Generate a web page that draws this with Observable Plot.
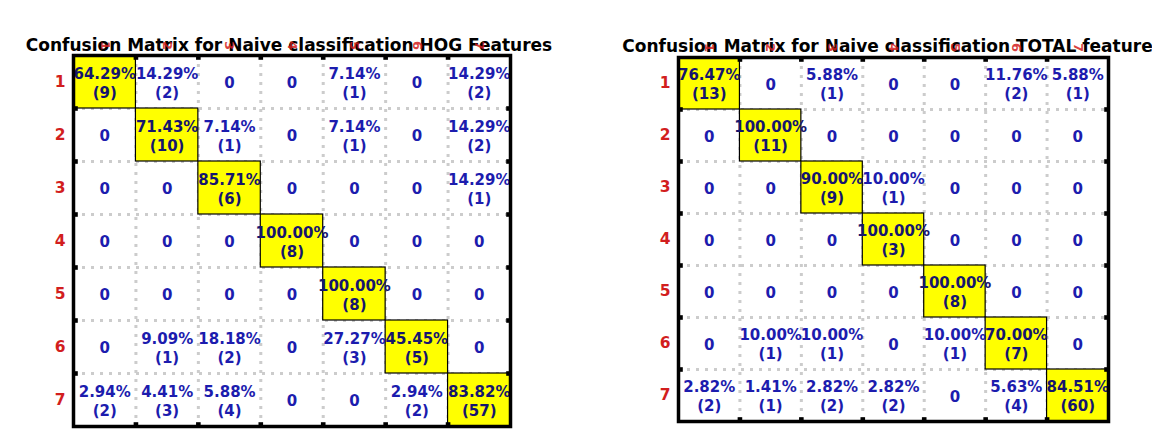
<!DOCTYPE html>
<html>
<head>
<meta charset="utf-8">
<script src="https://cdn.jsdelivr.net/npm/d3@7"></script>
<script src="https://cdn.jsdelivr.net/npm/@observablehq/plot@0.6"></script>
<style>
  html, body { margin: 0; padding: 0; background: #fff; }
  #wrap { position: relative; width: 1152px; height: 437px; overflow: hidden; background: #fff; }
  #wrap > div { position: absolute; top: 0; }
</style>
</head>
<body>
<div id="wrap"><div id="left"></div><div id="right"></div></div>
<script>
const classes = [1, 2, 3, 4, 5, 6, 7];
const boundaries = [1.5, 2.5, 3.5, 4.5, 5.5, 6.5];

const hogTitle = "Confusion Matrix for Naive classification HOG Features";
const hogCounts = [
  [9, 2, 0, 0, 1, 0, 2],
  [0, 10, 1, 0, 1, 0, 2],
  [0, 0, 6, 0, 0, 0, 1],
  [0, 0, 0, 8, 0, 0, 0],
  [0, 0, 0, 0, 8, 0, 0],
  [0, 1, 2, 0, 3, 5, 0],
  [2, 3, 4, 0, 0, 2, 57]
];
const hogPct = [
  [64.29, 14.29, 0, 0, 7.14, 0, 14.29],
  [0, 71.43, 7.14, 0, 7.14, 0, 14.29],
  [0, 0, 85.71, 0, 0, 0, 14.29],
  [0, 0, 0, 100.00, 0, 0, 0],
  [0, 0, 0, 0, 100.00, 0, 0],
  [0, 9.09, 18.18, 0, 27.27, 45.45, 0],
  [2.94, 4.41, 5.88, 0, 0, 2.94, 83.82]
];

const totTitle = "Confusion Matrix for Naive classification TOTAL feature";
const totCounts = [
  [13, 0, 1, 0, 0, 2, 1],
  [0, 11, 0, 0, 0, 0, 0],
  [0, 0, 9, 1, 0, 0, 0],
  [0, 0, 0, 3, 0, 0, 0],
  [0, 0, 0, 0, 8, 0, 0],
  [0, 1, 1, 0, 1, 7, 0],
  [2, 1, 2, 2, 0, 4, 60]
];
const totPct = [
  [76.47, 0, 5.88, 0, 0, 11.76, 5.88],
  [0, 100.00, 0, 0, 0, 0, 0],
  [0, 0, 90.00, 10.00, 0, 0, 0],
  [0, 0, 0, 100.00, 0, 0, 0],
  [0, 0, 0, 0, 100.00, 0, 0],
  [0, 10.00, 10.00, 0, 10.00, 70.00, 0],
  [2.82, 1.41, 2.82, 2.82, 0, 5.63, 84.51]
];

function buildCells(counts, pct) {
  const out = [];
  classes.forEach((r, i) => classes.forEach((c, j) => {
    out.push({row: r, col: c, count: counts[i][j], pct: pct[i][j], diag: r === c});
  }));
  return out;
}
const label = d => d.count === 0 ? "0" : `${d.pct.toFixed(2)}%\n(${d.count})`;

function matrix({title, titleDy, titleDx, counts, pct, width, height, marginLeft, marginRight, marginTop, marginBottom}) {
  const cells = buildCells(counts, pct);
  const red = "#d21e1e";
  return Plot.plot({
    width, height, marginLeft, marginRight, marginTop, marginBottom,
    x: {domain: [0.5, 7.5], axis: null},
    y: {domain: [0.5, 7.5], reverse: true, axis: null},
    style: {fontFamily: "'DejaVu Sans', sans-serif", overflow: "visible", background: "transparent"},
    marks: [
      Plot.ruleX(boundaries, {stroke: "#cccccc", strokeWidth: 3, strokeDasharray: "3,6"}),
      Plot.ruleY(boundaries, {stroke: "#cccccc", strokeWidth: 3, strokeDasharray: "3,6"}),
      Plot.rect(cells.filter(d => d.diag), {
        x1: d => d.col - 0.5, x2: d => d.col + 0.5,
        y1: d => d.row - 0.5, y2: d => d.row + 0.5,
        fill: "#ffff00", stroke: "#000", strokeWidth: 1.2
      }),
      Plot.text(cells.filter(d => !d.diag), {
        x: "col", y: "row", text: label, fill: "#1c1cae",
        fontSize: 15, fontWeight: "bold", lineHeight: 1.27
      }),
      Plot.text(cells.filter(d => d.diag), {
        x: "col", y: "row", text: label, fill: "#15156e",
        fontSize: 15, fontWeight: "bold", lineHeight: 1.27
      }),
      Plot.frame({stroke: "#000", strokeWidth: 3.5}),
      Plot.dot(boundaries, {x: d => d, y: 0.5, symbol: "square", r: 2.6, fill: "#000", dy: 2}),
      Plot.dot(boundaries, {x: d => d, y: 7.5, symbol: "square", r: 2.6, fill: "#000", dy: -2}),
      Plot.dot(boundaries, {x: 0.5, y: d => d, symbol: "square", r: 2.6, fill: "#000", dx: 2}),
      Plot.dot(boundaries, {x: 7.5, y: d => d, symbol: "square", r: 2.6, fill: "#000", dx: -2}),
      Plot.text(classes, {
        x: 0.5, y: d => d, text: d => String(d), textAnchor: "end", dx: -8,
        fill: red, fontSize: 15.5, fontWeight: "bold"
      }),
      Plot.text([title], {
        frameAnchor: "top", lineAnchor: "middle", dy: titleDy, dx: titleDx, text: d => d, fill: "#000",
        fontSize: 17, fontWeight: "bold"
      }),
      Plot.text(classes, {
        x: d => d, y: 0.5, dy: -10, text: d => String(d), rotate: 90,
        fill: red, fontSize: 13, fontWeight: "bold", fillOpacity: 0.85
      })
    ]
  });
}

const leftChart = matrix({
  title: hogTitle, titleDy: -10, titleDx: -3, counts: hogCounts, pct: hogPct,
  width: 560, height: 437, marginLeft: 73, marginRight: 50, marginTop: 55, marginBottom: 11
});
const rightChart = matrix({
  title: totTitle, titleDy: -11, titleDx: -6, counts: totCounts, pct: totPct,
  width: 576, height: 437, marginLeft: 102, marginRight: 44, marginTop: 57, marginBottom: 16
});
const L = document.getElementById("left");
const R = document.getElementById("right");
L.style.left = "0px";
R.style.left = "576px";
L.appendChild(leftChart);
R.appendChild(rightChart);
</script>
</body>
</html>
